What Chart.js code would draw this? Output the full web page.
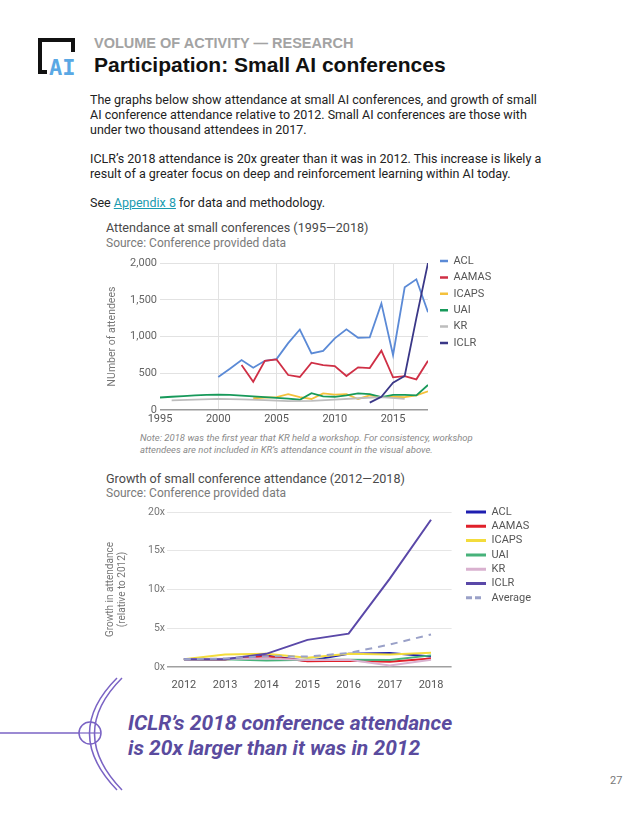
<!DOCTYPE html>
<html>
<head>
<meta charset="utf-8">
<script src="https://cdn.jsdelivr.net/npm/chart.js@4.4.1/dist/chart.umd.min.js"></script>
<style>
  body { margin: 0; width: 640px; height: 828px; position: relative; overflow: hidden; background: #fff; font-family: Roboto, sans-serif; }
  .abs { position: absolute; white-space: nowrap; }
  .kicker { left: 94px; top: 35px; font: bold 14.5px "Liberation Sans", Arial, sans-serif; color: #a3a3a3; }
  .headline { left: 94px; top: 53px; font: bold 21px "Liberation Sans", Arial, sans-serif; color: #111; }
  .body { left: 90px; font-size: 12.5px; line-height: 15px; color: #222; }
  .body a { color: #1a9bb0; text-decoration: underline; }
  .ctitle { left: 106px; font-size: 12.6px; color: #4a4a4a; }
  .csource { left: 106px; font-size: 12px; color: #7a7a7a; }
  .note { left: 140px; top: 432px; font-size: 9.5px; line-height: 12px; font-style: italic; color: #8a8a8a; }
  .callout { left: 128px; top: 711px; font-size: 21px; line-height: 25px; font-weight: 700; font-style: italic; color: #5a4b9e; }
  .pageno { left: 610px; top: 774px; font-size: 11px; color: #777; }
  .box { position: absolute; }
</style>
</head>
<body>

<svg class="abs" style="left:0;top:0" width="640" height="828">
  <!-- logo -->
  <rect x="38" y="38" width="37" height="4" fill="#111"/>
  <rect x="38" y="38" width="4" height="36" fill="#111"/>
  <rect x="71" y="38" width="4" height="14" fill="#111"/>
  <rect x="38" y="70" width="9" height="4" fill="#111"/>
  <text x="49" y="75" font-family="DejaVu Sans Mono, monospace" font-weight="bold" font-size="22" fill="#5aa8e4">AI</text>
  <!-- callout ornament -->
  <line x1="0" y1="733" x2="79" y2="733" stroke="#7a63c4" stroke-width="1.5"/>
  <circle cx="90" cy="733" r="11" fill="none" stroke="#7a63c4" stroke-width="1.5"/>
  <line x1="79" y1="733" x2="101" y2="733" stroke="#7a63c4" stroke-width="1.2"/>
  <path d="M117 678 Q62 733 117 790" fill="none" stroke="#7a63c4" stroke-width="1.5"/>
  <path d="M122 678 Q67 733 122 790" fill="none" stroke="#7a63c4" stroke-width="1.5"/>
</svg>

<div class="abs kicker">VOLUME OF ACTIVITY — RESEARCH</div>
<div class="abs headline">Participation: Small AI conferences</div>

<div class="abs body" style="top:92px">The graphs below show attendance at small AI conferences, and growth of small<br>AI conference attendance relative to 2012. Small AI conferences are those with<br>under two thousand attendees in 2017.</div>
<div class="abs body" style="top:151px">ICLR’s 2018 attendance is 20x greater than it was in 2012. This increase is likely a<br>result of a greater focus on deep and reinforcement learning within AI today.</div>
<div class="abs body" style="top:195px">See <a>Appendix 8</a> for data and methodology.</div>

<div class="abs ctitle" style="top:220px">Attendance at small conferences (1995—2018)</div>
<div class="abs csource" style="top:236px">Source: Conference provided data</div>
<div class="box" style="left:100px;top:248px;width:440px;height:184px"><canvas id="attendChart"></canvas></div>
<div class="abs note">Note: 2018 was the first year that KR held a workshop. For consistency, workshop<br>attendees are not included in KR’s attendance count in the visual above.</div>

<div class="abs ctitle" style="top:471px">Growth of small conference attendance (2012—2018)</div>
<div class="abs csource" style="top:486px">Source: Conference provided data</div>
<div class="box" style="left:100px;top:500px;width:460px;height:190px"><canvas id="growthChart"></canvas></div>

<div class="abs callout">ICLR’s 2018 conference attendance<br>is 20x larger than it was in 2012</div>
<div class="abs pageno">27</div>

<script>
// ---- data: attendance 1995-2018 ----
const years1 = [1995, 1996, 1997, 1998, 1999, 2000, 2001, 2002, 2003, 2004, 2005, 2006,
                2007, 2008, 2009, 2010, 2011, 2012, 2013, 2014, 2015, 2016, 2017, 2018];
const acl1   = [null, null, null, null, null, 450, 560, 680, 575, 670, 692, 910,
                1095, 770, 805, 975, 1097, 983, 988, 1450, 748, 1670, 1778, 1330];
const aamas1 = [null, null, null, null, null, null, null, 611, 385, 670, 688, 476,
                449, 643, 610, 598, 462, 580, 571, 807, 444, 462, 417, 671];
const icaps1 = [null, null, null, null, null, null, null, null, 160, 170, 175, 215,
                175, 150, 225, 210, 215, 150, 200, 175, 180, 175, 200, 255];
const uai1   = [170, 180, 190, 200, 205, 210, 205, 195, 185, 175, 165, 155,
                140, 228, 185, 180, 200, 225, 215, 175, 205, 205, 200, 340];
const kr1    = [null, 130, null, 140, null, 150, null, 145, null, 135, null, 120,
                null, 125, null, 140, null, 160, null, 175, null, 150, null, null];
const iclr1  = [null, null, null, null, null, null, null, null, null, null, null, null,
                null, null, null, null, null, null, 100, 180, 372, 462, 1250, 2000];
const xTicks1 = [1995, 2000, 2005, 2010, 2015];
const yTicks1 = [0, 500, 1000, 1500, 2000];

// ---- data: growth relative to 2012 ----
const years2 = [2012, 2013, 2014, 2015, 2016, 2017, 2018];
const acl2   = [1, 1.0, 1.48, 0.76, 1.7, 1.8, 1.35];
const aamas2 = [1, 0.98, 1.4, 0.75, 0.8, 0.68, 1.1];
const icaps2 = [1, 1.6, 1.7, 1.2, 1.7, 1.6, 1.85];
const uai2   = [1, 1.0, 0.85, 0.95, 0.95, 0.9, 1.5];
const kr2    = [1, 1.05, 1.1, 0.9, 0.95, 0.2, 0.95];
const iclr2  = [1, 1.0, 1.7, 3.5, 4.3, 11.4, 19];
const avg2   = [1, 1.1, 1.4, 1.35, 1.8, 2.9, 4.2];
const yTicks2 = [0, 5, 10, 15, 20];

const names = ['ACL', 'AAMAS', 'ICAPS', 'UAI', 'KR', 'ICLR'];
const colors1 = ['#5b8ad6', '#cf2f45', '#f4c13c', '#17995a', '#bdbdbd', '#3a3787'];
const colors2 = ['#1e1eb0', '#e0202a', '#f3dc3c', '#47b27a', '#d9b1cf', '#5a48a8'];

Chart.defaults.font.family = "Roboto, sans-serif";
Chart.defaults.animation = false;

function pts(xs, ys) {
    return xs.map((x, i) => ({ x: x, y: ys[i] }));
}

// put the legend box where the original has it (legend is clipped to its box)
const legendSpot = {
    id: 'legendSpot',
    afterLayout(chart, args, opts) {
        const lg = chart.legend;
        lg.left = opts.x;
        lg.top = opts.y;
        lg.width = opts.w;
        lg.height = opts.h;
        lg.right = lg.left + lg.width;
        lg.bottom = lg.top + lg.height;
    }
};

// legend boxes have zero height, so each one is stroked as a flat line
function legendLabels(width, lineW, pad) {
    return {
        boxWidth: width,
        boxHeight: 0,
        padding: pad,
        color: '#555',
        font: { size: 11 },
        sort: (a, b) => a.datasetIndex - b.datasetIndex,
        generateLabels: chart => Chart.defaults.plugins.legend.labels.generateLabels(chart)
            .map(l => Object.assign(l, {
                lineWidth: lineW,
                fillStyle: 'transparent',
                lineDash: chart.data.datasets[l.datasetIndex].legendDash || []
            }))
    };
}

// ---- chart 1 ----
const series1 = [acl1, aamas1, icaps1, uai1, kr1, iclr1];

new Chart(document.getElementById('attendChart'), {
    type: 'line',
    data: {
        datasets: series1.map((s, i) => ({
            label: names[i],
            data: pts(years1, s),
            borderColor: colors1[i],
            backgroundColor: colors1[i],
            borderWidth: 1.8,
            pointRadius: 0,
            spanGaps: true,
            order: series1.length - 1 - i
        }))
    },
    plugins: [legendSpot],
    options: {
        responsive: true,
        maintainAspectRatio: false,
        layout: { padding: { top: 15, right: 100, bottom: 0, left: 0 } },
        plugins: {
            legend: { position: 'right', align: 'start', maxWidth: 12, labels: legendLabels(8, 2.5, 5.4) },
            legendSpot: { x: 334.6, y: 2.1, w: 100, h: 120 },
            tooltip: { enabled: false }
        },
        scales: {
            x: {
                type: 'linear',
                min: 1995,
                max: 2018,
                afterBuildTicks: s => { s.ticks = xTicks1.map(v => ({ value: v })); },
                afterFit: s => { s.height = 22; },
                ticks: { color: '#555', font: { size: 11 }, padding: 3, maxRotation: 0, callback: v => String(v) },
                grid: { drawTicks: false, color: c => c.tick && c.tick.value === 1995 ? 'rgba(0,0,0,0)' : '#e2e2e2' },
                border: { display: false }
            },
            y: {
                min: 0,
                max: 2000,
                afterBuildTicks: s => { s.ticks = yTicks1.map(v => ({ value: v })); },
                afterFit: s => { s.width = 60; },
                ticks: { color: '#666', font: { size: 11 }, padding: 3, callback: v => v.toLocaleString('en-US') },
                grid: {
                    drawTicks: false,
                    color: c => c.tick && c.tick.value === 0 ? '#9a9a9a' : '#e2e2e2',
                    lineWidth: c => c.tick && c.tick.value === 0 ? 1.5 : 1
                },
                border: { display: false },
                title: { display: true, text: 'NUmber of attendees', color: '#777', font: { size: 10.5 }, padding: { top: 6, bottom: 0 } }
            }
        }
    }
});

// ---- chart 2 ----
const series2 = [acl2, aamas2, icaps2, uai2, kr2, iclr2];
const growthSets = series2.map((s, i) => ({
    label: names[i],
    data: pts(years2, s),
    borderColor: colors2[i],
    backgroundColor: colors2[i],
    borderWidth: 2,
    pointRadius: 0,
    order: series2.length - i
}));
growthSets.push({
    label: 'Average',
    data: pts(years2, avg2),
    borderColor: '#9aa1c8',
    backgroundColor: '#9aa1c8',
    borderWidth: 2,
    borderDash: [7, 6],
    legendDash: [6, 3, 6, 30],   // two dashes, then off for the return stroke
    pointRadius: 0,
    order: 0
});

new Chart(document.getElementById('growthChart'), {
    type: 'line',
    data: { datasets: growthSets },
    plugins: [legendSpot],
    options: {
        responsive: true,
        maintainAspectRatio: false,
        layout: { padding: { top: 12, right: 103.4, bottom: 0, left: 0 } },
        plugins: {
            legend: { position: 'right', align: 'start', maxWidth: 5, labels: legendLabels(20, 3, 3.3) },
            legendSpot: { x: 362.7, y: 3.2, w: 96, h: 120 },
            tooltip: { enabled: false }
        },
        scales: {
            x: {
                type: 'linear',
                min: 2011.59,
                max: 2018.5,
                afterBuildTicks: s => { s.ticks = years2.map(v => ({ value: v })); },
                afterFit: s => { s.height = 23; },
                ticks: { color: '#555', font: { size: 11 }, padding: 4, maxRotation: 0, callback: v => String(v) },
                grid: { display: false },
                border: { display: false }
            },
            y: {
                min: 0,
                max: 20,
                afterBuildTicks: s => { s.ticks = yTicks2.map(v => ({ value: v })); },
                afterFit: s => { s.width = 67; },
                ticks: { color: '#777', font: { size: 10.5 }, padding: 2, callback: v => v + 'x' },
                grid: {
                    drawTicks: false,
                    color: c => c.tick && c.tick.value === 0 ? '#a0a0a0' : '#e6e6e6',
                    lineWidth: c => c.tick && c.tick.value === 0 ? 1.5 : 1
                },
                border: { display: false },
                title: { display: true, text: ['Growth in attendance', '(relative to 2012)'], color: '#777', font: { size: 10 }, padding: { top: 4, bottom: 0 } }
            }
        }
    }
});
</script>
</body>
</html>
